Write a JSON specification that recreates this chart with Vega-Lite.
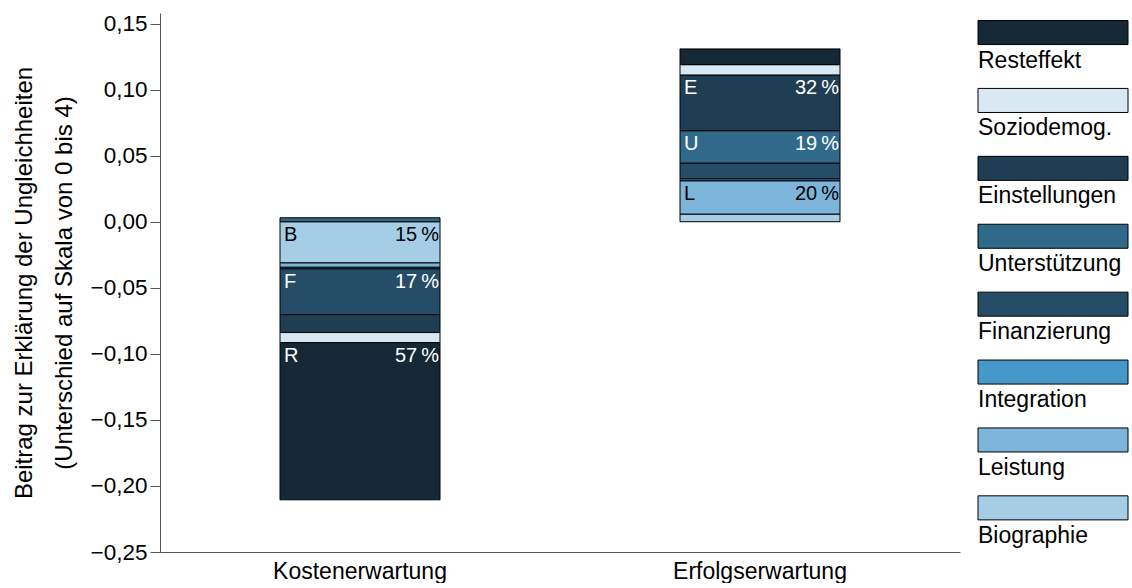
{
  "$schema": "https://vega.github.io/schema/vega-lite/v6.json",
  "padding": {"left": 12, "top": 12, "right": 0, "bottom": 0},
  "config": {
    "font": "Liberation Sans",
    "view": {"stroke": null},
    "locale": {"number": {"decimal": ",", "thousands": ".", "grouping": [3], "currency": ["", " €"], "minus": "\u2212"}}
  },
  "datasets": {
    "parts": [
      {"group": "Kostenerwartung", "cat": "Biographie", "rank": 1, "value": -0.0312, "letter": "B", "pct": "15\u2009%"},
      {"group": "Kostenerwartung", "cat": "Leistung", "rank": 2, "value": -0.0033, "letter": null, "pct": null},
      {"group": "Kostenerwartung", "cat": "Integration", "rank": 3, "value": -0.0012, "letter": null, "pct": null},
      {"group": "Kostenerwartung", "cat": "Finanzierung", "rank": 4, "value": -0.0346, "letter": "F", "pct": "17\u2009%"},
      {"group": "Kostenerwartung", "cat": "Unterstützung", "rank": 5, "value": 0.0030, "letter": null, "pct": null},
      {"group": "Kostenerwartung", "cat": "Einstellungen", "rank": 6, "value": -0.0136, "letter": null, "pct": null},
      {"group": "Kostenerwartung", "cat": "Soziodemog.", "rank": 7, "value": -0.0076, "letter": null, "pct": null},
      {"group": "Kostenerwartung", "cat": "Resteffekt", "rank": 8, "value": -0.119, "letter": "R", "pct": "57\u2009%"},
      {"group": "Erfolgserwartung", "cat": "Biographie", "rank": 1, "value": 0.0058, "letter": null, "pct": null},
      {"group": "Erfolgserwartung", "cat": "Leistung", "rank": 2, "value": 0.0252, "letter": "L", "pct": "20\u2009%"},
      {"group": "Erfolgserwartung", "cat": "Integration", "rank": 3, "value": 0.0015, "letter": null, "pct": null},
      {"group": "Erfolgserwartung", "cat": "Finanzierung", "rank": 4, "value": 0.0119, "letter": null, "pct": null},
      {"group": "Erfolgserwartung", "cat": "Unterstützung", "rank": 5, "value": 0.0245, "letter": "U", "pct": "19\u2009%"},
      {"group": "Erfolgserwartung", "cat": "Einstellungen", "rank": 6, "value": 0.0422, "letter": "E", "pct": "32\u2009%"},
      {"group": "Erfolgserwartung", "cat": "Soziodemog.", "rank": 7, "value": 0.0078, "letter": null, "pct": null},
      {"group": "Erfolgserwartung", "cat": "Resteffekt", "rank": 8, "value": 0.0119, "letter": null, "pct": null}
    ],
    "legend": [
      {"cat": "Resteffekt"},
      {"cat": "Soziodemog."},
      {"cat": "Einstellungen"},
      {"cat": "Unterstützung"},
      {"cat": "Finanzierung"},
      {"cat": "Integration"},
      {"cat": "Leistung"},
      {"cat": "Biographie"}
    ]
  },
  "spacing": 17,
  "resolve": {"scale": {"x": "independent", "y": "independent"}},
  "hconcat": [
    {
      "width": 800,
      "height": 539,
      "data": {"name": "parts"},
      "encoding": {
        "x": {
          "field": "group", "type": "nominal",
          "sort": ["Kostenerwartung", "Erfolgserwartung"],
          "scale": {"paddingInner": 0.6, "paddingOuter": 0.3},
          "axis": {"title": null, "labelAngle": 0, "ticks": false, "labelFontSize": 23, "labelPadding": 8, "domainColor": "#555555", "labelColor": "black", "grid": false}
        }
      },
      "layer": [
        {
          "mark": {"type": "rule", "strokeDash": [6, 4], "color": "#444444", "strokeWidth": 1.2},
          "encoding": {"y": {"datum": 0, "type": "quantitative"}}
        },
        {
          "mark": {"type": "bar", "stroke": "black", "strokeWidth": 1},
          "encoding": {
            "y": {
              "field": "value", "type": "quantitative", "stack": "zero",
              "scale": {"domain": [-0.25, 0.158], "nice": false, "zero": false},
              "title": ["Beitrag zur Erklärung der Ungleichheiten", "(Unterschied auf Skala von 0 bis 4)"],
              "axis": {
                "values": [-0.25, -0.2, -0.15, -0.1, -0.05, 0, 0.05, 0.1, 0.15],
                "format": ".2f", "labelFontSize": 22.5, "titleFontSize": 24, "titleFontWeight": "normal",
                "titleLineHeight": 40, "tickSize": 10, "labelPadding": 3, "titlePadding": 14,
                "domainColor": "#555555", "tickColor": "#555555", "gridColor": "#e4e4e4",
                "labelColor": "black", "titleColor": "black"
              }
            },
            "color": {
              "field": "cat", "type": "nominal", "legend": null,
              "scale": {
                "domain": ["Resteffekt", "Soziodemog.", "Einstellungen", "Unterstützung", "Finanzierung", "Integration", "Leistung", "Biographie"],
                "range": ["#142836", "#d9e9f4", "#1f3e53", "#2f6a8b", "#254d67", "#4598c9", "#7db5da", "#a6cde6"]
              }
            },
            "order": {"field": "rank", "type": "quantitative"}
          }
        },
        {
          "transform": [
            {"stack": "value", "groupby": ["group"], "sort": [{"field": "rank", "order": "ascending"}], "as": ["v0", "v1"]},
            {"filter": "datum.letter != null && datum.group == 'Kostenerwartung'"}
          ],
          "encoding": {
            "y": {"field": "v0", "type": "quantitative", "title": ["Beitrag zur Erklärung der Ungleichheiten", "(Unterschied auf Skala von 0 bis 4)"]},
            "color": {
              "condition": {"test": "datum.cat == 'Biographie' || datum.cat == 'Leistung'", "value": "black"},
              "value": "white"
            }
          },
          "layer": [
            {"mark": {"type": "text", "align": "left", "baseline": "top", "dx": 4, "dy": 3, "fontSize": 20},
             "encoding": {"x": {"field": "group", "type": "nominal", "bandPosition": 0, "sort": ["Kostenerwartung", "Erfolgserwartung"]}, "text": {"field": "letter"}}},
            {"mark": {"type": "text", "align": "right", "baseline": "top", "dx": -1, "dy": 3, "fontSize": 20},
             "encoding": {"x": {"field": "group", "type": "nominal", "bandPosition": 1, "sort": ["Kostenerwartung", "Erfolgserwartung"]}, "text": {"field": "pct"}}}
          ]
        },
        {
          "transform": [
            {"stack": "value", "groupby": ["group"], "sort": [{"field": "rank", "order": "ascending"}], "as": ["v0", "v1"]},
            {"filter": "datum.letter != null && datum.group == 'Erfolgserwartung'"}
          ],
          "encoding": {
            "y": {"field": "v1", "type": "quantitative", "title": ["Beitrag zur Erklärung der Ungleichheiten", "(Unterschied auf Skala von 0 bis 4)"]},
            "color": {
              "condition": {"test": "datum.cat == 'Biographie' || datum.cat == 'Leistung'", "value": "black"},
              "value": "white"
            }
          },
          "layer": [
            {"mark": {"type": "text", "align": "left", "baseline": "top", "dx": 4, "dy": 3, "fontSize": 20},
             "encoding": {"x": {"field": "group", "type": "nominal", "bandPosition": 0, "sort": ["Kostenerwartung", "Erfolgserwartung"]}, "text": {"field": "letter"}}},
            {"mark": {"type": "text", "align": "right", "baseline": "top", "dx": -1, "dy": 3, "fontSize": 20},
             "encoding": {"x": {"field": "group", "type": "nominal", "bandPosition": 1, "sort": ["Kostenerwartung", "Erfolgserwartung"]}, "text": {"field": "pct"}}}
          ]
        }
      ]
    },
    {
      "width": 150,
      "height": 539,
      "data": {"name": "legend"},
      "encoding": {
        "y": {
          "field": "cat", "type": "nominal",
          "sort": ["Resteffekt", "Soziodemog.", "Einstellungen", "Unterstützung", "Finanzierung", "Integration", "Leistung", "Biographie"],
          "scale": {"paddingInner": 0.646, "paddingOuter": 0.292, "align": 0.19},
          "axis": null
        },
        "x": {"datum": 0, "type": "quantitative", "scale": {"domain": [0, 1], "nice": false}, "axis": null}
      },
      "layer": [
        {
          "mark": {"type": "rect", "stroke": "black", "strokeWidth": 1},
          "encoding": {
            "x2": {"datum": 1},
            "color": {
              "field": "cat", "type": "nominal", "legend": null,
              "scale": {
                "domain": ["Resteffekt", "Soziodemog.", "Einstellungen", "Unterstützung", "Finanzierung", "Integration", "Leistung", "Biographie"],
                "range": ["#142836", "#d9e9f4", "#1f3e53", "#2f6a8b", "#254d67", "#4598c9", "#7db5da", "#a6cde6"]
              }
            }
          }
        },
        {
          "mark": {"type": "text", "align": "left", "baseline": "top", "dy": 5, "fontSize": 23, "color": "black"},
          "encoding": {
            "y": {
              "field": "cat", "type": "nominal", "bandPosition": 1,
              "sort": ["Resteffekt", "Soziodemog.", "Einstellungen", "Unterstützung", "Finanzierung", "Integration", "Leistung", "Biographie"]
            },
            "text": {"field": "cat"}
          }
        }
      ]
    }
  ]
}
